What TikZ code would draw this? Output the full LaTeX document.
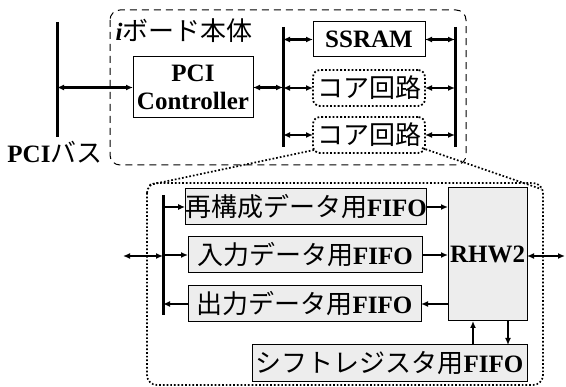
\documentclass[tikz,border=0pt]{standalone}
\usepackage{fontspec}
\setmainfont{Liberation Serif}
\newfontfamily\jp{Noto Sans CJK JP}[Scale=1.04]
\usetikzlibrary{arrows.meta}
\newcommand\bigfs{\fontsize{25}{28}\selectfont}

\begin{document}
\begin{tikzpicture}[x=1pt,y=-1pt,
  every node/.style={inner sep=0pt,outer sep=0pt,font=\bigfs},
  solidbox/.style={draw,line width=1pt},
  corebox/.style={draw,line width=1.8pt,dotted,rounded corners=7pt},
  fifobox/.style={draw,line width=1pt,fill=black!7},
  bus/.style={line width=3pt},
  conn/.style={line width=2.4pt},
  tip/.tip={Latex[length=7pt,width=6pt]},
  zoomline/.style={line width=1.7pt,dotted}]
\useasboundingbox (0,0) rectangle (566,387);

% board outline
\draw[line width=1pt,dash pattern=on 7pt off 5pt,rounded corners=10pt]
  (110,10) rectangle (466,165);
\node (title) at (184,31) {\textbf{\textit{i}}{\jp ボード本体}};

% PCI bus
\coordinate (pbt) at (57,22);
\coordinate (pbb) at (57,137);
\draw[bus] (pbt) -- (pbb);
\node (pcilabel) at (55,152) {\textbf{PCI}{\jp バス}};

% board components
\node[solidbox,minimum width=120pt,minimum height=61pt,align=center] (ctrl) at (193,87.5)
  {\textbf{PCI}\\\textbf{Controller}};
\coordinate (lbt) at (283,27);
\coordinate (lbb) at (283,147);
\coordinate (rbt) at (455,27);
\coordinate (rbb) at (455,147);
\draw[bus] (lbt) -- (lbb);
\draw[bus] (rbt) -- (rbb);

\node[solidbox,minimum width=112pt,minimum height=35pt] (ssram) at (369,39.5) {\textbf{SSRAM}};
\node[corebox,minimum width=112pt,minimum height=36pt] (core1) at (369,88) {\jp コア回路};
\node[corebox,minimum width=112pt,minimum height=36pt] (core2) at (369,135) {\jp コア回路};

\draw[conn,tip-tip] (pbt |- ctrl.west) -- (ctrl.west);
\draw[conn,tip-tip] (ctrl.east) -- (lbt |- ctrl.east);
\foreach \n in {ssram,core1,core2}{
  \draw[conn,tip-tip] (lbt |- \n.west) -- (\n.west);
  \draw[conn,tip-tip] (\n.east) -- (rbt |- \n.east);
}

% expanded core circuit
\draw[line width=1.7pt,dotted,rounded corners=10pt] (147,183) rectangle (543,385);
\coordinate (zl) at (149,185);
\coordinate (zr) at (541,189);
\draw[zoomline] (core2.south west) ++(1,-3) -- (zl);
\draw[zoomline] (core2.south east) ++(-3,-5) -- (zr);

\coordinate (ibt) at (163,195);
\coordinate (ibb) at (163,315);
\draw[bus] (ibt) -- (ibb);
\coordinate (extl) at (123,256);
\coordinate (extr) at (565,256);

\node[fifobox,minimum width=236pt,minimum height=36pt] (f1) at (306,207)
  {{\jp 再構成データ用}\textbf{FIFO}};
\node[fifobox,minimum width=234pt,minimum height=36pt] (f2) at (305,255)
  {{\jp 入力データ用}\textbf{FIFO}};
\node[fifobox,minimum width=233pt,minimum height=36pt] (f3) at (304.5,304)
  {{\jp 出力データ用}\textbf{FIFO}};
\node[fifobox,minimum width=275pt,minimum height=37pt] (sf) at (389.5,363.5)
  {{\jp シフトレジスタ用}\textbf{FIFO}};
\node[fifobox,minimum width=79pt,minimum height=133pt] (rhw) at (487.5,254.5)
  {\textbf{RHW2}};

\draw[conn,tip-tip] (extl) -- (extl -| ibt);
\draw[conn,-tip] (ibt |- f1.west) -- (f1.west);
\draw[conn,-tip] (ibt |- f2.west) -- (f2.west);
\draw[conn,tip-] (ibt |- f3.west) -- (f3.west);
\draw[conn,-tip] (f1.east) -- (f1.east -| rhw.west);
\draw[conn,-tip] (f2.east) -- (f2.east -| rhw.west);
\draw[conn,tip-] (f3.east) -- (f3.east -| rhw.west);
\draw[conn,tip-tip] (rhw.east |- extr) -- (extr);
\draw[conn,-tip] (sf.north -| 473,0) -- (rhw.south -| 473,0);
\draw[conn,tip-] (sf.north -| 508,0) -- (rhw.south -| 508,0);
\end{tikzpicture}
\end{document}
